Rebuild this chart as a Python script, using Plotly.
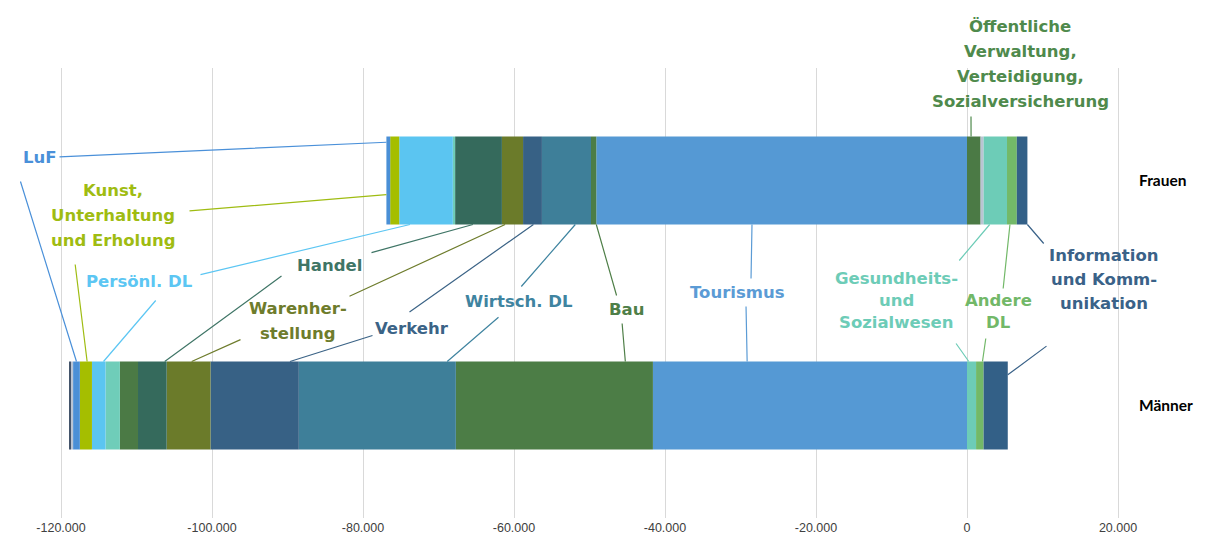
import plotly.graph_objects as go

# ---------------- data ----------------
categories = ["Frauen", "Männer"]

tourismus   = [-49100, -41600]
bau         = [-700, -26100]
wirtsch_dl  = [-6500, -20800]
verkehr     = [-2500, -11700]
warenherst  = [-2800, -5800]
handel      = [-6200, -3800]
oeffentl    = [1800, -2400]
weitere_1   = [-300, -1900]
persoenl_dl = [-7100, -1800]
kunst       = [-1200, -1600]
luf         = [-500, -900]
weitere_2   = [400, -300]
weitere_3   = [0, -200]
gesundheit  = [3100, 1200]
andere_dl   = [1300, 1000]
information = [1400, 3200]

x_ticks = [-120000, -100000, -80000, -60000, -40000, -20000, 0, 20000]
x_tick_labels = ["-120.000", "-100.000", "-80.000", "-60.000", "-40.000", "-20.000", "0", "20.000"]

series = [
    ("Tourismus", tourismus),
    ("Bau", bau),
    ("Wirtsch. DL", wirtsch_dl),
    ("Verkehr", verkehr),
    ("Warenherstellung", warenherst),
    ("Handel", handel),
    ("Öffentliche Verwaltung", oeffentl),
    ("Weitere 1", weitere_1),
    ("Persönl. DL", persoenl_dl),
    ("Kunst", kunst),
    ("LuF", luf),
    ("Weitere 2", weitere_2),
    ("Weitere 3", weitere_3),
    ("Gesundheit", gesundheit),
    ("Andere DL", andere_dl),
    ("Information", information),
]

colors = {
    "Tourismus": "#5599d4",
    "Bau": "#4c7d46",
    "Wirtsch. DL": "#3e7f99",
    "Verkehr": "#376185",
    "Warenherstellung": "#6b7b2a",
    "Handel": "#356a5c",
    "Öffentliche Verwaltung": "#4b7a45",
    "Weitere 1": "#6fcdb9",
    "Persönl. DL": "#5bc5f1",
    "Kunst": "#a5be00",
    "LuF": "#4a8fd6",
    "Weitere 2": "#b9c4d3",
    "Weitere 3": "#44546a",
    "Gesundheit": "#6dccb7",
    "Andere DL": "#73b968",
    "Information": "#336087",
}

text_colors = {
    "LuF": "#4a90d9",
    "Kunst": "#9fbc12",
    "Persönl. DL": "#5cc6f3",
    "Handel": "#3f7566",
    "Warenherstellung": "#6e7c2c",
    "Verkehr": "#3b6386",
    "Wirtsch. DL": "#3f84a0",
    "Bau": "#4f7f48",
    "Tourismus": "#5b9bd5",
    "Gesundheit": "#6dccb7",
    "Andere DL": "#72b868",
    "Information": "#3a6288",
    "Öffentliche Verwaltung": "#4f8a4c",
}

# ---------------- layout geometry (page pixel coordinates) ----------------
OFF = 8                      # page body margin
W, H = 1213 - OFF, 554 - OFF
L, R, T, B = 31, 1128, 68, 518
XMIN, XMAX = -123973, 21325
BAR_W = 0.391
cat_pos = {"Männer": 0, "Frauen": 1}
LABEL_FONT = dict(family="DejaVu Sans", size=16.5, weight="bold")

def px2x(px):
    return XMIN + (px - L) / (R - L) * (XMAX - XMIN)

def py2y(py):
    return 1.5 - (py - T) / (B - T) * 2.0

def pxp(px):
    return (px - L) / (R - L)

def pyp(py):
    return (B - py) / (B - T)

# ---------------- figure ----------------
fig = go.Figure()
for name, vals in series:
    fig.add_trace(go.Bar(
        y=categories, x=vals, name=name, orientation="h",
        marker=dict(color=colors[name], line=dict(width=0)),
        width=BAR_W,
    ))

# segment extents computed from the data (relative stacking)
extent = {}
for ci, cat in enumerate(categories):
    pos, neg = 0.0, 0.0
    for name, vals in series:
        v = vals[ci]
        if v >= 0:
            extent[(name, cat)] = (pos, pos + v)
            pos += v
        else:
            extent[(name, cat)] = (neg + v, neg)
            neg += v

annotations = []

# text labels: (key, lines, center px x, first line px y, line spacing)
labels = [
    ("LuF", ["LuF"], 40, 157, 0),
    ("Kunst", ["Kunst,", "Unterhaltung", "und Erholung"], 113, 190, 25),
    ("Persönl. DL", ["Persönl. DL"], 139, 281, 0),
    ("Handel", ["Handel"], 329, 265, 0),
    ("Warenherstellung", ["Warenher-", "stellung"], 298, 308, 25),
    ("Verkehr", ["Verkehr"], 412, 328, 0),
    ("Wirtsch. DL", ["Wirtsch. DL"], 519, 301, 0),
    ("Bau", ["Bau"], 626, 309, 0),
    ("Tourismus", ["Tourismus"], 737, 292, 0),
    ("Gesundheit", ["Gesundheits-", "und", "Sozialwesen"], 896, 278, 22),
    ("Andere DL", ["Andere", "DL"], 998, 300, 22),
    ("Information", ["Information", "und Komm-", "unikation"], 1104, 255, 24),
    ("Öffentliche Verwaltung", ["Öffentliche", "Verwaltung,", "Verteidigung,", "Sozialversicherung"], 1020, 26, 25),
]
for key, lines, cx, y0, dy in labels:
    for i, line in enumerate(lines):
        annotations.append(dict(
            text=line, x=pxp(cx), y=pyp(y0 + i * dy), xref="paper", yref="paper",
            showarrow=False, align="center", xanchor="center", yanchor="middle",
            font=dict(LABEL_FONT, color=text_colors[key]),
        ))

# leader lines: (series, category, fraction along segment, vertical fraction of half bar, tail px x, tail px y)
leaders = [
    ("LuF", "Frauen", 0.0, 0.87, 58, 157),
    ("LuF", "Männer", 0.5, 1.0, 20, 180),
    ("Kunst", "Frauen", -1.0, -0.32, 188, 211),
    ("Kunst", "Männer", 0.6, 1.0, 75, 263),
    ("Persönl. DL", "Frauen", 0.2, -1.0, 199, 275),
    ("Persönl. DL", "Männer", 0.85, 1.0, 157, 299),
    ("Handel", "Frauen", 0.38, -1.0, 370, 253),
    ("Handel", "Männer", 0.93, 1.0, 283, 275),
    ("Warenherstellung", "Frauen", 0.15, -1.0, 348, 297),
    ("Warenherstellung", "Männer", 0.57, 1.0, 242, 339),
    ("Verkehr", "Frauen", 0.55, -1.0, 408, 313),
    ("Verkehr", "Männer", 0.9, 1.0, 374, 335),
    ("Wirtsch. DL", "Frauen", 0.68, -1.0, 520, 288),
    ("Wirtsch. DL", "Männer", 0.945, 1.0, 500, 316),
    ("Bau", "Frauen", 1.0, -1.0, 617, 297),
    ("Bau", "Männer", 0.86, 1.0, 622, 322),
    ("Tourismus", "Frauen", 0.42, -1.0, 751, 280),
    ("Tourismus", "Männer", 0.30, 1.0, 746, 305),
    ("Gesundheit", "Frauen", 0.26, -1.0, 958, 262),
    ("Gesundheit", "Männer", 0.2, 1.0, 955, 342),
    ("Andere DL", "Frauen", 0.3, -1.0, 1003, 290),
    ("Andere DL", "Männer", 0.85, 1.0, 986, 337),
    ("Information", "Frauen", 1.0, -1.0, 1045, 245),
    ("Information", "Männer", 1.0, 0.70, 1048, 345),
    ("Öffentliche Verwaltung", "Frauen", 0.3, 1.0, 971, 115),
]
for key, cat, frac, vfrac, tx, ty in leaders:
    if frac < 0:  # outer (left) end of the whole bar
        xt = min(e[0] for (n, c), e in extent.items() if c == cat)
    else:
        a, b = extent[(key, cat)]
        xt = a + frac * (b - a)
    yt = cat_pos[cat] + vfrac * BAR_W / 2
    annotations.append(dict(
        text="", x=xt, y=yt, xref="x", yref="y",
        ax=px2x(tx), ay=py2y(ty), axref="x", ayref="y",
        showarrow=True, arrowhead=0, arrowwidth=1.2, standoff=0, startstandoff=0,
        arrowcolor=text_colors[key],
    ))

fig.update_layout(
    width=W, height=H,
    barmode="relative",
    showlegend=False,
    plot_bgcolor="white", paper_bgcolor="white",
    margin=dict(l=L - OFF, r=W - (R - OFF), t=T - OFF, b=H - (B - OFF), pad=0),
    xaxis=dict(
        range=[XMIN, XMAX], tickvals=x_ticks, ticktext=x_tick_labels,
        showgrid=True, gridcolor="#d9d9d9", gridwidth=1, zeroline=False,
        showline=False, ticks="",
        tickfont=dict(family="Liberation Sans", size=12.5, color="#404040"),
    ),
    yaxis=dict(
        type="category", categoryorder="array", categoryarray=["Männer", "Frauen"],
        range=[-0.5, 1.5], side="right", showgrid=False, zeroline=False,
        showline=False, ticks="", ticklabelstandoff=10,
        tickfont=dict(family="Lato", size=15.5, color="#000000", weight="bold"),
    ),
    annotations=annotations,
)

fig.write_html("out.html")
